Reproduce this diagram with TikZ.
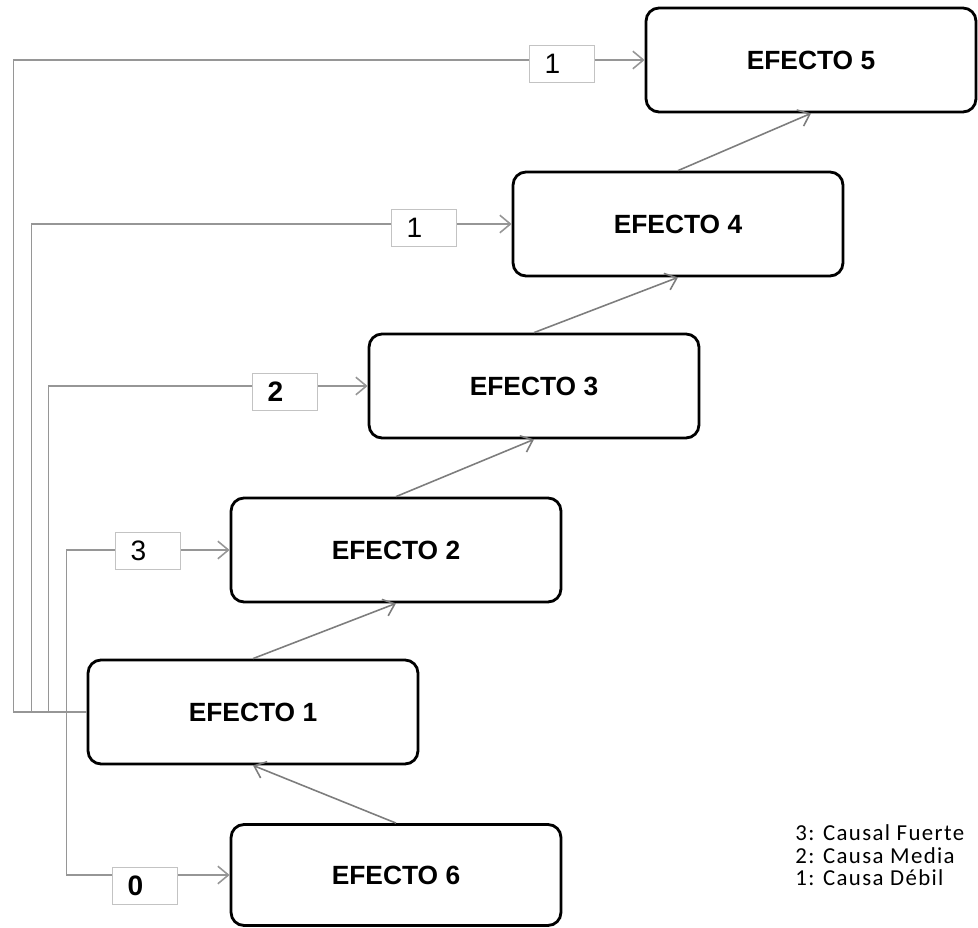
\documentclass[tikz,border=0pt]{standalone}
\usepackage{fontspec}
\setmainfont{Liberation Sans}
\newfontfamily\legendfont{Carlito}[LetterSpace=6]
\usetikzlibrary{arrows.meta,positioning}

\definecolor{linkgray}{RGB}{150,150,150}
\definecolor{risegray}{RGB}{125,125,125}
\definecolor{labgray}{RGB}{195,195,195}

\tikzset{
	efecto/.style={draw=black, line width=1.6pt, rounded corners=0.26cm, minimum width=6.6cm, minimum height=2.08cm, inner sep=0pt, font=\fontsize{15}{18}\selectfont\bfseries},
	peso/.style={draw=labgray, fill=white, line width=0.8pt, minimum height=0.75cm, text width=0.7cm, inner xsep=0.3cm, inner ysep=0pt, align=left, font=\fontsize{16}{18}\selectfont},
	link/.style={draw=linkgray, line width=0.9pt, -{Straight Barb[length=6pt,width=10pt]}},
	rise/.style={draw=risegray, line width=0.9pt, -{Straight Barb[length=6pt,width=10pt]}}
}

\begin{document}
\begin{tikzpicture}[x=0.02cm, y=-0.02cm]
			%%%%% START %%%%%
			\useasboundingbox (0,0) rectangle (978,928);
			
			\node[efecto] (e1) at (253,712) {EFECTO 1};
			\node[efecto] (e2) at (396,550) {EFECTO 2};
			\node[efecto] (e3) at (534,386) {EFECTO 3};
			\node[efecto] (e4) at (678,224) {EFECTO 4};
			\node[efecto] (e5) at (811,60) {EFECTO 5};
			\node[efecto, minimum height=2.02cm] (e6) at (396,875) {EFECTO 6};
			
			\draw[link] (e1.west) -- ++(-73,0) |- (e5);
			\draw[link] (e1.west) -- ++(-55,0) |- (e4);
			\draw[link] (e1.west) -- ++(-38,0) |- (e3);
			\draw[link] (e1.west) -- ++(-20,0) |- (e2);
			\draw[link] (e1.west) -- ++(-20,0) |- (e6);
			
			\node[peso] (l5) at (562,64) {1};
			\node[peso] (l4) at (424,228) {1};
			\node[peso] (l3) at (285,392) {\bfseries 2};
			\node[peso] (l2) at (148,551) {3};
			\node[peso] (l6) at (145,886) {\bfseries 0};
			
			\draw[rise] (e1.north) -- (e2.south);
			\draw[rise] (e2.north) -- (e3.south);
			\draw[rise] (e3.north) -- (e4.south);
			\draw[rise] (e4.north) -- (e5.south);
			\draw[rise] (e6.north) -- (e1.south);
			
			\node[anchor=north west, align=left, inner sep=0pt, font=\legendfont\fontsize{13}{13}\selectfont] (ley) at (795,824) {3: Causal Fuerte\\2: Causa Media\\1: Causa Débil};
			
			%%%%% END %%%%%
\end{tikzpicture}
\end{document}
